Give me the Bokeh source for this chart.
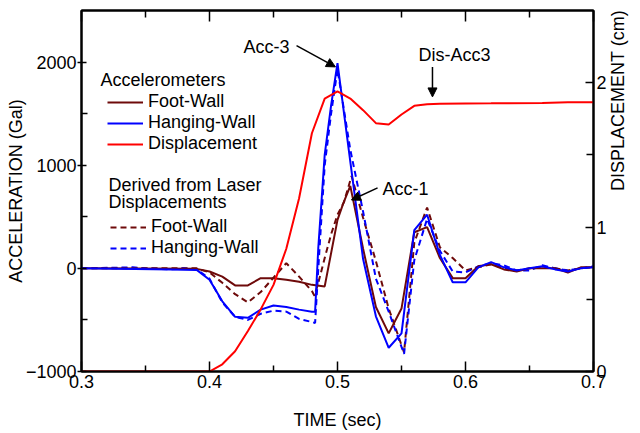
from bokeh.plotting import figure
from bokeh.models import (Range1d, LinearAxis, FixedTicker, Legend, LegendItem,
                          Label, Arrow, NormalHead, CustomJSTickFormatter)
from bokeh.embed import file_html
from bokeh.resources import INLINE

# ---------------- data ----------------
x_ticks = [0.3, 0.4, 0.5, 0.6, 0.7]
x_minor = [0.35, 0.45, 0.55, 0.65]
acc_ticks = [-1000, 0, 1000, 2000]
acc_minor = [-500, 500, 1500]
dis_ticks = [0, 1, 2]
dis_minor = [0.5, 1.5]

# Accelerometer, foot-wall (solid maroon)
t_fw = [0.30, 0.39, 0.40, 0.41, 0.42, 0.43, 0.44, 0.45, 0.46, 0.47, 0.48, 0.49,
        0.50, 0.5045, 0.51, 0.52, 0.53, 0.54, 0.55, 0.56, 0.57, 0.58, 0.59, 0.60,
        0.61, 0.62, 0.63, 0.64, 0.65, 0.66, 0.67, 0.68, 0.69, 0.70]
acc_fw = [0, -5, -30, -80, -165, -165, -95, -95, -110, -130, -160, -175,
          470, 630, 800, 190, -375, -630, -390, 350, 400, 100, -95, -95,
          20, 40, -10, -30, 0, 0, 0, -40, 10, 10]

# Accelerometer, hanging-wall (solid blue)
t_hw = [0.30, 0.37, 0.39, 0.40, 0.41, 0.42, 0.43, 0.44, 0.45, 0.46, 0.47, 0.48,
        0.4825, 0.485, 0.49, 0.495, 0.50, 0.51, 0.52, 0.53, 0.54, 0.55, 0.56,
        0.57, 0.58, 0.59, 0.60, 0.61, 0.62, 0.63, 0.64, 0.65, 0.66, 0.67, 0.68,
        0.69, 0.70]
acc_hw = [0, -10, -15, -110, -320, -470, -480, -400, -360, -375, -400, -420,
          -420, 200, 1100, 1580, 1990, 1035, 90, -465, -770, -630, 370,
          520, 130, -135, -135, 10, 60, 10, -20, 0, 20, -10, -30,
          0, 10]

# Displacement (red, right axis, cm)
t_dis = [0.30, 0.36, 0.40, 0.41, 0.42, 0.43, 0.44, 0.45, 0.46, 0.47, 0.48,
         0.49, 0.50, 0.51, 0.52, 0.53, 0.54, 0.55, 0.56, 0.57, 0.58, 0.62,
         0.66, 0.68, 0.70]
dis = [0.0, 0.0, 0.0, 0.05, 0.14, 0.28, 0.43, 0.60, 0.85, 1.20, 1.65,
       1.89, 1.94, 1.89, 1.81, 1.72, 1.71, 1.78, 1.84, 1.85, 1.855, 1.857,
       1.86, 1.865, 1.865]

# Derived from laser displacements, foot-wall (dashed maroon)
t_lfw = [0.30, 0.39, 0.40, 0.41, 0.42, 0.43, 0.44, 0.45, 0.46, 0.47, 0.48,
         0.482, 0.485, 0.49, 0.495, 0.50, 0.505, 0.511, 0.52, 0.53, 0.54,
         0.552, 0.56, 0.57, 0.58, 0.59, 0.60, 0.61, 0.62, 0.63, 0.64, 0.65,
         0.66, 0.67, 0.68, 0.69, 0.70]
acc_lfw = [0, 0, -40, -140, -250, -330, -230, -90, 50, -80, -220,
           -265, -140, 100, 330, 520, 640, 895, 490, 70, -390,
           -815, 250, 590, 205, 100, -20, 10, 40, 0, -20, 0,
           10, 0, -20, 0, 10]

# Derived from laser displacements, hanging-wall (dashed blue)
t_lhw = [0.30, 0.34, 0.35, 0.37, 0.38, 0.39, 0.40, 0.41, 0.42, 0.43, 0.44,
         0.45, 0.46, 0.47, 0.48, 0.4825, 0.4855, 0.49, 0.495, 0.50, 0.51,
         0.52, 0.53, 0.54, 0.552, 0.56, 0.57, 0.58, 0.59, 0.60, 0.61, 0.62,
         0.63, 0.64, 0.65, 0.66, 0.67, 0.68, 0.69, 0.70]
acc_lhw = [0, 10, 0, -10, 0, -10, -100, -330, -470, -500, -440,
           -410, -420, -490, -520, -530, 100, 1000, 1500, 1930, 1150,
           550, -100, -420, -830, 80, 480, 170, -30, -40, 20, 50,
           30, -20, -20, 30, 0, -20, 0, 20]

MAROON = "#6E0A0A"
BLUE = "#0000FF"
RED = "#FF0000"
FONT = "Liberation Sans"
FS = "18px"

p = figure(width=640, height=433, output_backend="svg", toolbar_location=None,
           x_range=Range1d(0.3, 0.7), y_range=Range1d(-1000, 2500),
           min_border_left=81, min_border_right=47, min_border_top=10,
           min_border_bottom=62)
p.extra_y_ranges = {"disp": Range1d(0, 2.5)}
p.grid.visible = False
p.outline_line_color = "black"
p.outline_line_width = 2
p.background_fill_color = "white"
p.border_fill_color = "white"


def style_axis(ax):
    ax.axis_line_width = 2
    ax.axis_line_color = "black"
    ax.major_tick_line_color = "black"
    ax.minor_tick_line_color = "black"
    ax.major_tick_line_width = 1.5
    ax.minor_tick_line_width = 1.5
    ax.major_label_text_font = FONT
    ax.major_label_text_font_size = FS
    ax.major_label_text_color = "black"
    ax.axis_label_text_font = FONT
    ax.axis_label_text_font_size = FS
    ax.axis_label_text_font_style = "normal"
    ax.axis_label_text_color = "black"


xb = p.xaxis[0]
xb.ticker = FixedTicker(ticks=x_ticks, minor_ticks=x_minor)
xb.axis_label = "TIME (sec)"
style_axis(xb)
xb.major_tick_in = 10
xb.major_tick_out = 0
xb.minor_tick_in = 6
xb.minor_tick_out = 0
xb.major_label_standoff = 3
xb.axis_label_standoff = 19

yl = p.yaxis[0]
yl.ticker = FixedTicker(ticks=acc_ticks, minor_ticks=acc_minor)
yl.axis_label = "ACCELERATION (Gal)"
style_axis(yl)
yl.major_tick_in = 5
yl.major_tick_out = 4
yl.minor_tick_in = 6
yl.minor_tick_out = 0
yl.major_label_standoff = 1
yl.axis_label_standoff = -3

xt = LinearAxis(ticker=FixedTicker(ticks=x_ticks, minor_ticks=x_minor),
                formatter=CustomJSTickFormatter(code="return ''"))
style_axis(xt)
xt.major_tick_in = 11
xt.major_tick_out = 0
xt.minor_tick_in = 7
xt.minor_tick_out = 0
xt.major_label_text_font_size = "1px"
xt.major_label_standoff = 0
p.add_layout(xt, "above")

yr = LinearAxis(y_range_name="disp", axis_label="DISPLACEMENT (cm)",
                ticker=FixedTicker(ticks=dis_ticks, minor_ticks=dis_minor))
style_axis(yr)
yr.major_tick_in = 8
yr.major_tick_out = 0
yr.minor_tick_in = 7
yr.minor_tick_out = 0
yr.major_label_standoff = 3
yr.axis_label_standoff = 8
yr.axis_label_orientation = 1.5707963
p.add_layout(yr, "right")

# ---------------- lines ----------------
r_lfw = p.line(t_lfw, acc_lfw, color=MAROON, line_width=2, line_dash="6 4")
r_lhw = p.line(t_lhw, acc_lhw, color=BLUE, line_width=2, line_dash="6 4")
r_fw = p.line(t_fw, acc_fw, color=MAROON, line_width=2)
r_hw = p.line(t_hw, acc_hw, color=BLUE, line_width=2)
r_dis = p.line(t_dis, dis, color=RED, line_width=2, y_range_name="disp")


def make_legend(items, loc):
    lg = Legend(items=items, location=loc, glyph_width=36, glyph_height=18,
                label_height=18, label_standoff=5, spacing=0, padding=0,
                margin=0, border_line_alpha=0, background_fill_alpha=0,
                label_text_font=FONT, label_text_font_size=FS,
                label_text_color="black")
    return lg


leg1 = make_legend([LegendItem(label="Foot-Wall", renderers=[r_fw]),
                    LegendItem(label="Hanging-Wall", renderers=[r_hw]),
                    LegendItem(label="Displacement", renderers=[r_dis])],
                   (26, 217))
leg2 = make_legend([LegendItem(label="Foot-Wall", renderers=[r_lfw]),
                    LegendItem(label="Hanging-Wall", renderers=[r_lhw])],
                   (29, 113))
p.add_layout(leg1)
p.add_layout(leg2)

# ---------------- texts and arrows ----------------
def add_label(x, y, text):
    p.add_layout(Label(x=x, y=y, text=text, text_font=FONT, text_font_size=FS,
                       text_baseline="middle", text_align="left",
                       text_color="black"))


add_label(0.3148, 1826, "Accelerometers")
add_label(0.3211, 808, "Derived from Laser")
add_label(0.3211, 643, "Displacements")
add_label(0.4266, 2150, "Acc-3")
add_label(0.5633, 2073, "Dis-Acc3")
add_label(0.5352, 770, "Acc-1")


def add_arrow(x0, y0, x1, y1):
    p.add_layout(Arrow(end=NormalHead(size=9, fill_color="black",
                                      line_color="black", line_width=1),
                       x_start=x0, y_start=y0, x_end=x1, y_end=y1,
                       line_width=1.5, line_color="black"))


add_arrow(0.468, 2160, 0.4984, 1953)
add_arrow(0.5742, 1953, 0.5742, 1662)
add_arrow(0.5313, 780, 0.5109, 663)

open("out.html", "w").write(file_html(p, INLINE))
